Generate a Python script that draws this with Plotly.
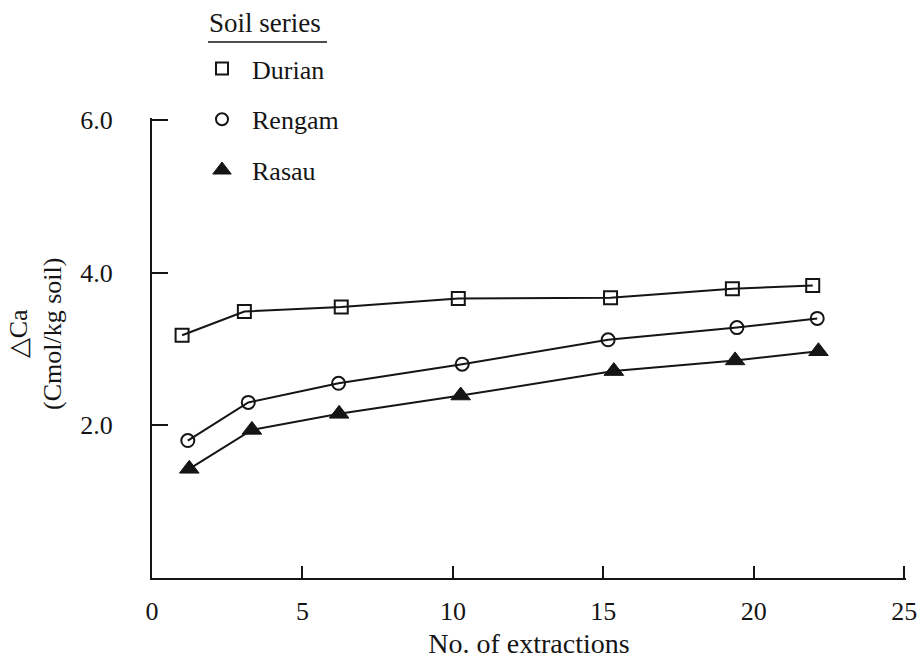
import plotly.graph_objects as go

# Exchangeable Ca released (ΔCa) after repeated extractions, by soil series
series_names = ["Durian", "Rengam", "Rasau"]

durian_x = [1.0, 3.07, 6.29, 10.18, 15.24, 19.29, 21.96]
durian_y = [3.18, 3.49, 3.55, 3.66, 3.67, 3.79, 3.83]

rengam_x = [1.19, 3.20, 6.20, 10.31, 15.16, 19.44, 22.11]
rengam_y = [1.80, 2.30, 2.55, 2.80, 3.12, 3.28, 3.40]

rasau_x = [1.24, 3.32, 6.22, 10.26, 15.35, 19.38, 22.15]
rasau_y = [1.43, 1.94, 2.15, 2.39, 2.71, 2.85, 2.97]

x_ticks = [0, 5, 10, 15, 20, 25]
y_ticks = [2.0, 4.0, 6.0]
y_tick_labels = ["2.0", "4.0", "6.0"]

FONT = "Liberation Serif, Times New Roman, serif"
INK = "#151515"

fig = go.Figure()

styles = [
    dict(symbol="square-open", size=13, lw=2.0, legend_size=12),
    dict(symbol="circle-open", size=13, lw=2.0, legend_size=12),
    dict(symbol="triangle-up", size=17, lw=1.0, legend_size=16),
]
data = [(durian_x, durian_y), (rengam_x, rengam_y), (rasau_x, rasau_y)]

for name, (xs, ys), st in zip(series_names, data, styles):
    fig.add_trace(go.Scatter(
        x=xs, y=ys, mode="lines+markers", showlegend=False,
        line=dict(color=INK, width=2),
        marker=dict(symbol=st["symbol"], size=st["size"], color=INK,
                    line=dict(color=INK, width=st["lw"])),
        cliponaxis=False,
    ))

# legend entries showing only the marker symbol
for i, (name, st) in enumerate(zip(series_names, styles)):
    fig.add_trace(go.Scatter(
        x=[None], y=[None], mode="markers", name=name,
        legendgroup=f"g{i}",
        marker=dict(symbol=st["symbol"], size=st["legend_size"], color=INK,
                    line=dict(color=INK, width=st["lw"])),
    ))

fig.update_layout(
    width=917, height=662, autosize=False,
    margin=dict(l=152, r=11, t=118, b=84, autoexpand=False),
    paper_bgcolor="white", plot_bgcolor="white",
    font=dict(family=FONT, color=INK, size=25),
    showlegend=True,
    legend=dict(
        xref="container", yref="container",
        x=192 / 917, y=1 - 45 / 662, xanchor="left", yanchor="top",
        font=dict(family=FONT, size=26, color=INK),
        itemwidth=50,
        tracegroupgap=14, bgcolor="rgba(0,0,0,0)", borderwidth=0,
    ),
    annotations=[
        dict(text="Soil series", xref="paper", yref="paper",
             x=(207 - 152) / 754, y=(578 - 23) / 460,
             xanchor="left", yanchor="middle", showarrow=False,
             font=dict(family=FONT, size=27, color=INK)),
        dict(text="△Ca<br>(Cmol/kg soil)", xref="paper", yref="paper",
             x=(35 - 152) / 754, y=(578 - 334) / 460,
             xanchor="center", yanchor="middle", showarrow=False,
             textangle=-90,
             font=dict(family=FONT, size=26, color=INK)),
    ],
    shapes=[
        dict(type="line", xref="paper", yref="paper",
             x0=(208 - 152) / 754, x1=(327 - 152) / 754,
             y0=(578 - 42) / 460, y1=(578 - 42) / 460,
             line=dict(color=INK, width=1.5)),
    ],
)

fig.update_xaxes(
    range=[0, 25.06], tickmode="array", tickvals=x_ticks,
    ticktext=[str(v) for v in x_ticks],
    showline=True, linecolor=INK, linewidth=2,
    ticks="inside", ticklen=12, tickwidth=1.5, tickcolor=INK,
    showgrid=False, zeroline=False,
    tickfont=dict(family=FONT, size=26, color=INK),
    ticklabelstandoff=9, ticklabeloverflow="allow",
    title=dict(text="No. of extractions", standoff=8,
               font=dict(family=FONT, size=28, color=INK)),
)
fig.update_yaxes(
    range=[0, 6.025], tickmode="array", tickvals=y_ticks, ticktext=y_tick_labels,
    showline=True, linecolor=INK, linewidth=2,
    ticks="inside", ticklen=16, tickwidth=1.5, tickcolor=INK,
    showgrid=False, zeroline=False,
    tickfont=dict(family=FONT, size=26, color=INK),
    ticklabelstandoff=32, ticklabeloverflow="allow",
)

fig.write_html("out.html")
